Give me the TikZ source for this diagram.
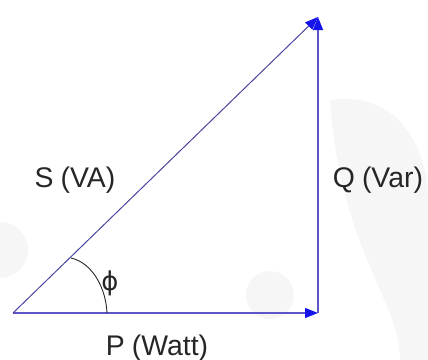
\documentclass[tikz,border=0pt]{standalone}
\usepackage{fontspec}
\setmainfont{Liberation Sans}
\newfontfamily\greekfont{DejaVu Sans}
\usetikzlibrary{arrows.meta}
\definecolor{vecline}{RGB}{92,86,200}
\definecolor{vechead}{RGB}{20,20,235}
\definecolor{wmark}{RGB}{246,246,247}
\newcommand{\pgap}{\hspace{7bp}}
\begin{document}
\begin{tikzpicture}[
  x=1bp, y=-1bp,
  vec/.style   = {draw=vecline, line width=1.3bp,
                  -{Triangle[length=13bp,width=10bp,fill=vechead,color=vechead]}},
  lbl/.style   = {font=\fontsize{28.5}{30}\selectfont, text=black!85, inner sep=0pt},
  anglbl/.style= {font=\greekfont\fontsize{26}{28}\selectfont, text=black!85, inner sep=0pt}
]
\useasboundingbox (0,0) rectangle (428,360);

% ---- faint watermark ----
\fill[wmark] (0,250) circle (28);
\fill[wmark] (270,295) circle (24);
\fill[wmark] (330,100) .. controls (400,90) and (428,150) .. (428,200)
  -- (428,360) -- (400,360) .. controls (400,300) and (340,250) .. (330,100);

% ---- corners of the triangle ----
\coordinate (O) at (13,313);
\coordinate (P) at (318,313);
\coordinate (S) at (318,17);

% ---- vectors ----
\draw[vec] (O) -- (P);
\draw[vec] (P) -- (S);
\draw[vec, line width=1.0bp, draw=vecline!80!black] (O) -- (S);

% ---- angle ----
\draw[black!85, line width=0.9bp] (107,313) .. controls (106,289) and (93,263) .. (71,258);

% ---- labels ----
\node[lbl, anchor=base] (slbl) at (75,187) {S\pgap(VA)};
\node[lbl, anchor=base] (qlbl) at (378,187) {Q\pgap(Var)};
\node[lbl, anchor=base] (plbl) at (157,355) {P\pgap(Watt)};
\node[anglbl] (philbl) at (110,283) {ϕ};

\end{tikzpicture}
\end{document}
